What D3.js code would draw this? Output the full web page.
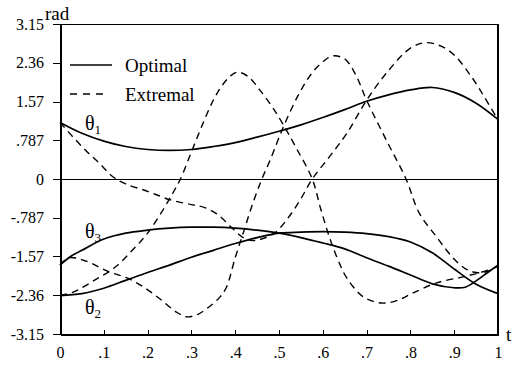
<!DOCTYPE html>
<html>
<head>
<meta charset="utf-8">
<script src="https://cdn.jsdelivr.net/npm/d3@7"></script>
<style>
  body { margin: 0; background: #fff; }
  svg { display: block; }
  text { font-family: "Liberation Serif", "DejaVu Serif", "Times New Roman", serif; fill: #000; }
  .frame, .domain, .tick line { shape-rendering: crispEdges; }
</style>
</head>
<body>
<svg id="svg"></svg>
<script>
const width = 516;
const height = 366;
const serif = "'Liberation Serif', 'DejaVu Serif', serif";

// axis ticks
const xTicks = [0, 0.1, 0.2, 0.3, 0.4, 0.5, 0.6, 0.7, 0.8, 0.9, 1];
const xTickLabels = ["0", ".1", ".2", ".3", ".4", ".5", ".6", ".7", ".8", ".9", "1"];
const yTicks = [3.15, 2.36, 1.57, 0.787, 0, -0.787, -1.57, -2.36, -3.15];
const yTickLabels = ["3.15", "2.36", "1.57", ".787", "0", "-.787", "-1.57", "-2.36", "-3.15"];

// optimal trajectories [t, rad]
const optimalTheta1 = [[0,1.15],[0.05,0.93],[0.1,0.77],[0.15,0.66],[0.2,0.6],[0.25,0.58],[0.3,0.6],[0.35,0.66],[0.4,0.74],[0.45,0.85],[0.5,0.97],[0.55,1.1],[0.6,1.25],[0.65,1.41],[0.7,1.58],[0.75,1.71],[0.8,1.81],[0.85,1.86],[0.9,1.76],[0.95,1.54],[1,1.21]];
const optimalTheta2 = [[0,-2.37],[0.05,-2.33],[0.1,-2.22],[0.15,-2.06],[0.2,-1.9],[0.25,-1.75],[0.3,-1.59],[0.35,-1.45],[0.4,-1.31],[0.45,-1.19],[0.5,-1.1],[0.55,-1.08],[0.6,-1.07],[0.65,-1.08],[0.7,-1.11],[0.75,-1.17],[0.8,-1.28],[0.85,-1.5],[0.9,-1.83],[0.95,-2.14],[1,-2.33]];
const optimalTheta3 = [[0,-1.75],[0.025,-1.57],[0.05,-1.45],[0.1,-1.22],[0.15,-1.1],[0.2,-1.04],[0.25,-1.0],[0.3,-0.98],[0.35,-0.98],[0.4,-1.0],[0.45,-1.04],[0.5,-1.1],[0.55,-1.19],[0.6,-1.3],[0.65,-1.42],[0.7,-1.6],[0.75,-1.77],[0.8,-1.95],[0.85,-2.13],[0.9,-2.21],[0.925,-2.2],[0.95,-2.07],[0.975,-1.91],[1,-1.75]];

// extremal trajectories [t, rad]
const extremalTheta1 = [[0,1.15],[0.03,0.85],[0.06,0.57],[0.09,0.32],[0.12,0.05],[0.15,-0.1],[0.2,-0.25],[0.25,-0.42],[0.3,-0.52],[0.33,-0.58],[0.36,-0.72],[0.39,-0.97],[0.42,-1.2],[0.44,-1.25],[0.46,-1.22],[0.49,-1.1],[0.52,-0.8],[0.55,-0.4],[0.576,0],[0.615,0.45],[0.655,0.93],[0.7,1.6],[0.745,2.15],[0.8,2.66],[0.835,2.77],[0.87,2.7],[0.9,2.52],[0.94,2.07],[0.97,1.65],[1,1.2]];
const extremalTheta2 = [[0,-2.36],[0.03,-2.3],[0.08,-2.05],[0.125,-1.8],[0.165,-1.45],[0.2,-1.1],[0.235,-0.63],[0.258,-0.28],[0.275,0],[0.3,0.55],[0.325,1.1],[0.35,1.6],[0.37,1.9],[0.39,2.1],[0.406,2.17],[0.43,2.08],[0.456,1.81],[0.485,1.46],[0.51,1.1],[0.54,0.62],[0.576,0],[0.595,-0.6],[0.615,-1.18],[0.635,-1.65],[0.654,-2.0],[0.69,-2.38],[0.72,-2.5],[0.745,-2.52],[0.775,-2.45],[0.805,-2.32],[0.86,-2.11],[0.92,-1.99],[0.96,-1.9],[1,-1.78]];
const extremalTheta3 = [[0,-1.75],[0.02,-1.6],[0.06,-1.67],[0.11,-1.88],[0.15,-2.0],[0.19,-2.19],[0.23,-2.45],[0.265,-2.7],[0.29,-2.8],[0.315,-2.75],[0.34,-2.6],[0.365,-2.4],[0.38,-2.2],[0.4,-1.6],[0.42,-1.05],[0.44,-0.5],[0.46,-0.02],[0.48,0.39],[0.51,1.06],[0.545,1.72],[0.575,2.15],[0.6,2.38],[0.622,2.5],[0.65,2.44],[0.675,2.12],[0.7,1.6],[0.745,0.79],[0.79,0],[0.82,-0.69],[0.86,-1.18],[0.895,-1.58],[0.925,-1.82],[0.95,-1.9],[0.975,-1.88],[1,-1.75]];

const optimalSeries = [optimalTheta1, optimalTheta2, optimalTheta3];
const extremalSeries = [extremalTheta1, extremalTheta2, extremalTheta3];

const curveLabels = [
  { sub: "1", t: 0.057, v: 1.0 },
  { sub: "3", t: 0.057, v: -1.2 },
  { sub: "2", t: 0.057, v: -2.75 }
];

let svg = d3.select("#svg")
    .attr("width", width)
    .attr("height", height);

const margin = { top: 24, right: 18, bottom: 32, left: 60 };
const chartWidth = width - margin.left - margin.right;
const chartHeight = height - margin.top - margin.bottom;

let xScale = d3.scaleLinear().domain([0, 1]).range([margin.left, margin.left + chartWidth]);
let yScale = d3.scaleLinear().domain([-3.15, 3.15]).range([margin.top + chartHeight, margin.top]);

// frame: top and right borders, zero line
svg.append("line")
    .attr("class", "frame")
    .attr("x1", xScale(0)).attr("x2", xScale(1))
    .attr("y1", yScale(3.15)).attr("y2", yScale(3.15))
    .attr("stroke", "#000").attr("stroke-width", 1);
svg.append("line")
    .attr("class", "frame")
    .attr("x1", xScale(1)).attr("x2", xScale(1))
    .attr("y1", yScale(3.15)).attr("y2", yScale(-3.15))
    .attr("stroke", "#000").attr("stroke-width", 2);
svg.append("line")
    .attr("class", "frame")
    .attr("x1", xScale(0)).attr("x2", xScale(1))
    .attr("y1", yScale(0)).attr("y2", yScale(0))
    .attr("stroke", "#000").attr("stroke-width", 1);

// x axis, ticks pointing up
let xAxis = svg.append("g")
    .attr("transform", `translate(0,${yScale(-3.15)})`)
    .call(d3.axisBottom(xScale)
        .tickValues(xTicks)
        .tickFormat((d, i) => xTickLabels[i])
        .tickSizeInner(-4)
        .tickSizeOuter(0)
        .tickPadding(13));
xAxis.attr("font-family", serif);
xAxis.select(".domain").attr("stroke-width", 2);
xAxis.selectAll("text").style("font-size", "16px").style("font-family", serif);

// y axis
let yAxis = svg.append("g")
    .attr("transform", `translate(${xScale(0)},0)`)
    .call(d3.axisLeft(yScale)
        .tickValues(yTicks)
        .tickFormat((d, i) => yTickLabels[i])
        .tickSizeInner(7)
        .tickSizeOuter(0)
        .tickPadding(9));
yAxis.attr("font-family", serif);
yAxis.select(".domain").attr("stroke-width", 2);
yAxis.selectAll("line").attr("stroke-width", 1);
yAxis.selectAll("text").style("font-size", "16px").style("font-family", serif);

// lines
const line = d3.line()
    .x(d => xScale(d[0]))
    .y(d => yScale(d[1]))
    .curve(d3.curveCatmullRom.alpha(0.5));

svg.selectAll(".optimal")
    .data(optimalSeries)
    .enter().append("path")
    .attr("class", "optimal")
    .attr("d", line)
    .attr("fill", "none")
    .attr("stroke", "#000")
    .attr("stroke-width", 1.7);

svg.selectAll(".extremal")
    .data(extremalSeries)
    .enter().append("path")
    .attr("class", "extremal")
    .attr("d", line)
    .attr("fill", "none")
    .attr("stroke", "#000")
    .attr("stroke-width", 1.4)
    .attr("stroke-dasharray", "7,5");

// theta labels
let thetaText = svg.selectAll(".theta")
    .data(curveLabels)
    .enter().append("text")
    .attr("class", "theta")
    .attr("x", d => xScale(d.t))
    .attr("y", d => yScale(d.v))
    .style("font-family", serif)
    .style("font-size", "20px");
thetaText.append("tspan").text("θ");
thetaText.append("tspan")
    .attr("dy", 4)
    .style("font-size", "13px")
    .text(d => d.sub);

// legend
const legendData = [
  { name: "Optimal", dash: null },
  { name: "Extremal", dash: "7,6" }
];
let legendItems = svg.selectAll(".legend-item")
    .data(legendData)
    .enter().append("g")
    .attr("class", "legend-item")
    .attr("transform", (d, i) => `translate(70, ${65 + i * 29})`);
legendItems.append("line")
    .attr("x1", 0).attr("x2", d => d.dash ? 34 : 42)
    .attr("stroke", "#000")
    .attr("stroke-width", 1.3)
    .attr("stroke-dasharray", d => d.dash);
legendItems.append("text")
    .attr("x", 55)
    .attr("dy", "0.35em")
    .style("font-family", serif)
    .style("font-size", "19px")
    .text(d => d.name);

// axis titles
svg.append("text")
    .attr("x", 45)
    .attr("y", 20)
    .style("font-family", serif)
    .style("font-size", "19px")
    .text("rad");
svg.append("text")
    .attr("x", 506)
    .attr("y", 341)
    .style("font-family", serif)
    .style("font-size", "19px")
    .text("t");
</script>
</body>
</html>
